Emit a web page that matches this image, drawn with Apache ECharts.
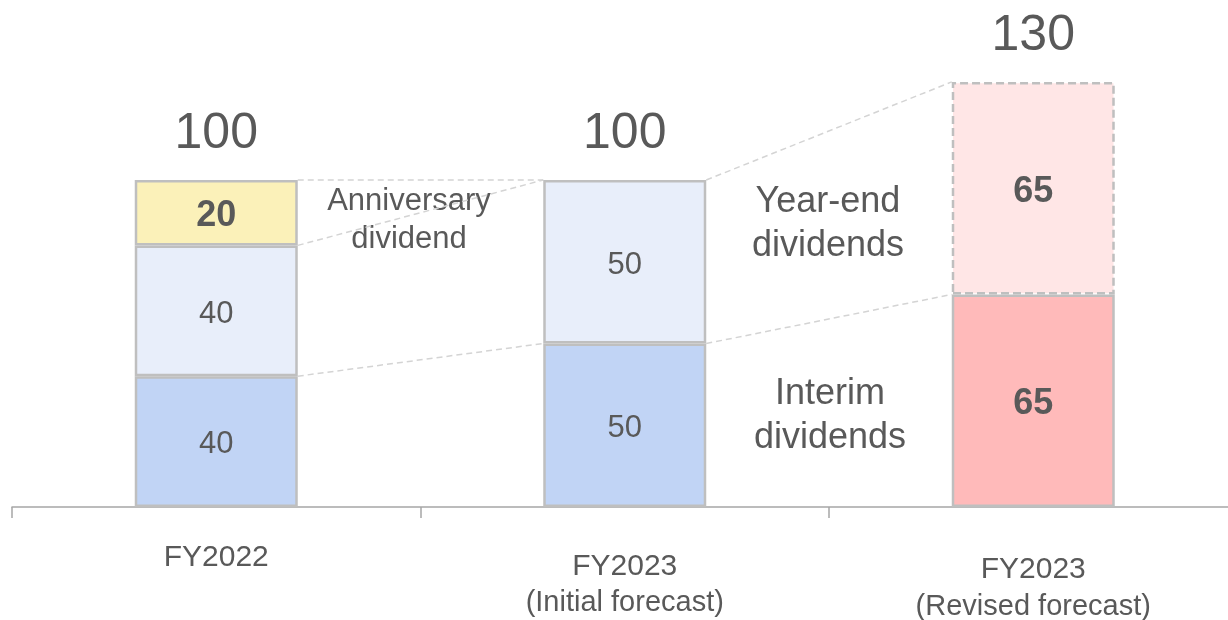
<!DOCTYPE html>
<html>
<head>
<meta charset="utf-8">
<script src="https://cdn.jsdelivr.net/npm/echarts@6/dist/echarts.min.js"></script>
<style>html,body{margin:0;padding:0;background:#fff}#c{width:1228px;height:620px}</style>
</head>
<body>
<div id="c"></div>
<script>
// ---- data ----
const categories = ['FY2022', 'FY2023\n(Initial forecast)', 'FY2023\n(Revised forecast)'];
const interim = [40, 50, 65];
const yearEnd = [40, 50, 65];
const anniversary = [20, null, null];
const totals = [100, 100, 130];
// connectors: [fromCategoryIndex, fromValue, toCategoryIndex, toValue]
const connectors = [
  [0, 100, 1, 100],
  [0, 80, 1, 100],
  [0, 40, 1, 50],
  [1, 100, 2, 130],
  [1, 50, 2, 65]
];

// ---- styles ----
const TXT = '#595959';
const BORDER = '#BFBFBF';
const BAR_W = 163;
const interimColors = ['#C1D4F5', '#C1D4F5', '#FFBABA'];
const yearEndColors = ['#E8EEFA', '#E8EEFA', '#FFE6E6'];
const boldLabel = [false, false, true];
const FONT = 'Liberation Sans, Arial, sans-serif';

function seg(values, colors, dashedIdx) {
  return values.map((v, i) => v == null ? '-' : ({
    value: v,
    itemStyle: {
      color: colors[i], borderColor: BORDER, borderWidth: 2.5,
      borderType: dashedIdx === i ? [8, 4] : 'solid'
    },
    label: {
      fontSize: boldLabel[i] ? 36 : 31,
      fontWeight: boldLabel[i] ? 'bold' : 'normal'
    }
  }));
}

const chart = echarts.init(document.getElementById('c'), null, {renderer: 'canvas'});
chart.setOption({
  animation: false,
  textStyle: {fontFamily: FONT},
  grid: {left: 12, width: 1225.5, top: 16.5, height: 490.5, containLabel: false, outerBoundsMode: 'none'},
  xAxis: {
    type: 'category',
    data: categories,
    axisLine: {lineStyle: {color: '#A6A6A6', width: 1.5}},
    axisTick: {show: true, length: 11, lineStyle: {color: '#A6A6A6', width: 1.5}},
    axisLabel: {
      margin: 36,
      interval: 0,
      formatter: function (v, i) {
        const parts = v.split('\n');
        if (parts.length === 1) return '{a|' + parts[0] + '}';
        if (i === 2) return '{d|' + parts[0] + '}\n{e|' + parts[1] + '}';
        return '{b|' + parts[0] + '}\n{c|' + parts[1] + '}';
      },
      rich: {
        a: {fontSize: 30, lineHeight: 30, color: TXT, fontFamily: FONT},
        b: {fontSize: 30, lineHeight: 48, color: TXT, fontFamily: FONT},
        c: {fontSize: 29, lineHeight: 24, color: TXT, fontFamily: FONT},
        d: {fontSize: 30, lineHeight: 54, color: TXT, fontFamily: FONT},
        e: {fontSize: 29, lineHeight: 20, color: TXT, fontFamily: FONT}
      }
    }
  },
  yAxis: {type: 'value', min: 0, max: 150, show: false, splitLine: {show: false}},
  series: [
    {
      type: 'custom',
      z: 1,
      silent: true,
      data: connectors,
      renderItem: function (params, api) {
        const p1 = api.coord([api.value(0), api.value(1)]);
        const p2 = api.coord([api.value(2), api.value(3)]);
        return {
          type: 'line',
          shape: {x1: p1[0] + BAR_W / 2, y1: p1[1], x2: p2[0] - BAR_W / 2, y2: p2[1]},
          style: {stroke: '#D4D4D4', lineWidth: 1.5, lineDash: [6, 4]}
        };
      }
    },
    {
      name: 'Interim', type: 'bar', stack: 'd', barWidth: BAR_W, z: 2,
      label: {show: true, position: 'inside', offset: [0, 3], color: TXT, fontFamily: FONT},
      data: seg(interim, interimColors, -1)
    },
    {
      name: 'Year-end', type: 'bar', stack: 'd', barWidth: BAR_W, z: 2,
      label: {show: true, position: 'inside', offset: [0, 4], color: TXT, fontFamily: FONT},
      data: seg(yearEnd, yearEndColors, 2)
    },
    {
      name: 'Anniversary', type: 'bar', stack: 'd', barWidth: BAR_W, z: 3,
      label: {show: true, position: 'inside', offset: [0, 3], color: TXT, fontFamily: FONT, fontSize: 36, fontWeight: 'bold'},
      itemStyle: {color: '#FBF1B9', borderColor: BORDER, borderWidth: 2.5},
      data: anniversary.map(v => v == null ? '-' : v)
    },
    {
      name: 'Total', type: 'scatter', symbolSize: 0, z: 5,
      itemStyle: {color: TXT, opacity: 1},
      label: {show: true, position: 'top', distance: 21, color: TXT, fontSize: 50, fontFamily: FONT},
      data: totals
    }
  ],
  graphic: [
    {type: 'text', x: 409, y: 182, style: {text: 'Anniversary\ndividend', font: '31px ' + FONT, fill: TXT, align: 'center', verticalAlign: 'top', lineHeight: 38}},
    {type: 'text', x: 828, y: 180, style: {text: 'Year-end\ndividends', font: '36px ' + FONT, fill: TXT, align: 'center', verticalAlign: 'top', lineHeight: 44}},
    {type: 'text', x: 830, y: 372, style: {text: 'Interim\ndividends', font: '36px ' + FONT, fill: TXT, align: 'center', verticalAlign: 'top', lineHeight: 44}}
  ]
});
</script>
</body>
</html>
